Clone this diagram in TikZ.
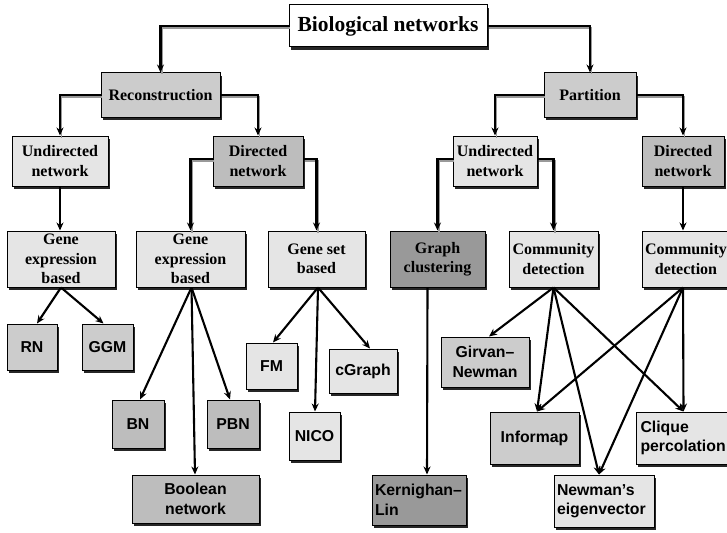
\documentclass[tikz,border=0pt]{standalone}
\usepackage{fontspec}
\setmainfont{Liberation Serif}
\setsansfont{Liberation Sans}
\usetikzlibrary{arrows.meta,shadows}
\tikzset{
  bx/.style={draw=black, line width=1pt, inner sep=2pt, align=center,
    drop shadow={shadow xshift=1.6pt, shadow yshift=-3.4pt, fill=black, opacity=0.85}},
  rmf/.style={font=\bfseries\fontsize{16}{19.5}\selectfont},
  sff/.style={font=\sffamily\bfseries\fontsize{15.8}{19.5}\selectfont},
  cwhite/.style={fill=white},
  clight/.style={fill=black!10},
  cmid/.style={fill=black!20},
  cdark/.style={fill=black!26},
  cdarker/.style={fill=black!40},
  el/.style={line width=2.4pt, -{Stealth[length=8pt,width=7pt]}},
  elsh/.style={line width=1.6pt, draw=black!40},
  dg/.style={line width=2.1pt, -{Stealth[length=8pt,width=7pt]}},
}
\newcommand\elbow[2]{%
  \draw[elsh, transform canvas={xshift=1.6pt,yshift=-2pt}] #1 -| #2;
  \draw[el] #1 -| #2;}
\begin{document}
\begin{tikzpicture}[x=1pt,y=-1pt]
\useasboundingbox (0,0) rectangle (727,532);
% level 0
\node[bx,cwhite,font=\bfseries\fontsize{21.5}{25}\selectfont,minimum width=198,minimum height=42] (bio) at (388,26) {Biological networks};
% level 1
\node[bx,cmid,rmf,minimum width=119,minimum height=44] (rec) at (160.5,95) {Reconstruction};
\node[bx,cmid,rmf,minimum width=92,minimum height=44] (par) at (590,95) {Partition};
% level 2
\node[bx,clight,rmf,minimum width=96,minimum height=50] (undL) at (60,161) {Undirected\\network};
\node[bx,cdark,rmf,minimum width=90,minimum height=50] (dirL) at (258,161) {Directed\\network};
\node[bx,clight,rmf,minimum width=84,minimum height=50] (undR) at (495,161) {Undirected\\network};
\node[bx,cdark,rmf,minimum width=82,minimum height=50] (dirR) at (683,161) {Directed\\network};
% level 3
\node[bx,clight,rmf,minimum width=108,minimum height=56] (geL) at (61,259) {Gene\\expression\\based};
\node[bx,clight,rmf,minimum width=109,minimum height=56] (geM) at (190.5,259) {Gene\\expression\\based};
\node[bx,clight,rmf,minimum width=97,minimum height=56] (gs) at (316.5,259) {Gene set\\based};
\node[bx,cdarker,rmf,minimum width=95,minimum height=56] (gc) at (437.5,259) {Graph\\clustering};
\node[bx,clight,rmf,minimum width=89,minimum height=56] (cdM) at (553.5,259) {Community\\detection};
\node[bx,clight,rmf,minimum width=88,minimum height=56] (cdR) at (686,259) {Community\\detection};
% leaves
\node[bx,cmid,sff,minimum width=50,minimum height=46] (rn) at (32,347) {RN};
\node[bx,cmid,sff,minimum width=51,minimum height=46] (ggm) at (107.5,347) {GGM};
\node[bx,clight,sff,minimum width=51,minimum height=46] (fm) at (271.5,366) {FM};
\node[bx,clight,sff,minimum width=68,minimum height=44] (cg) at (363,371) {cGraph};
\node[bx,clight,sff,minimum width=51,minimum height=48] (nico) at (314.5,436) {NICO};
\node[bx,cdark,sff,minimum width=52,minimum height=48] (bn) at (138,424) {BN};
\node[bx,cdark,sff,minimum width=52,minimum height=48] (pbn) at (233,424) {PBN};
\node[bx,cdark,sff,minimum width=127,minimum height=48] (bool) at (195.5,499) {Boolean\\network};
\node[bx,cmid,sff,minimum width=88,minimum height=50] (gn) at (485,362) {Girvan–\\Newman};
\node[bx,cmid,sff,minimum width=89,minimum height=52] (inf) at (534.5,438) {Informap};
\node[bx,clight,sff,minimum width=95,minimum height=52,text width=86,align=left] (cl) at (683.5,438) {Clique\\percolation};
\node[bx,cdarker,sff,minimum width=94,minimum height=50,text width=88,align=left] (kl) at (419,500) {Kernighan–\\Lin};
\node[bx,clight,sff,minimum width=100,minimum height=52,text width=94,align=left] (ne) at (604,501) {Newman’s\\eigenvector};
% elbow connectors
\elbow{(bio.west)}{(rec.north)}
\elbow{(bio.east)}{(par.north)}
\elbow{(rec.west)}{(undL.north)}
\elbow{(rec.east)}{(dirL.north)}
\elbow{(par.west)}{(undR.north)}
\elbow{(par.east)}{(dirR.north)}
\elbow{([yshift=2pt]dirL.west)}{(geM.north)}
\elbow{([yshift=2pt]dirL.east)}{(gs.north)}
\elbow{([yshift=2pt]undR.west)}{(gc.north)}
\elbow{([yshift=2pt]undR.east)}{(cdM.north)}
\draw[el] (undL.south) -- (undL.south |- geL.north);
\draw[el] (dirR.south) -- (dirR.south |- cdR.north);
% diagonal connectors
\draw[dg] (geL.south) -- ([xshift=5pt]rn.north);
\draw[dg] (geL.south) -- ([xshift=-4pt]ggm.north);
\draw[dg] ([xshift=1pt]geM.south) -- ([xshift=2pt]bn.north);
\draw[dg] ([xshift=1pt]geM.south) -- ([xshift=-3pt]pbn.north);
\draw[dg] ([xshift=1pt]geM.south) -- ([xshift=-0.5pt]bool.north);
\draw[dg] ([xshift=1.5pt]gs.south) -- ([xshift=1.5pt]fm.north);
\draw[dg] ([xshift=1.5pt]gs.south) -- ([xshift=0.5pt]nico.north);
\draw[dg] ([xshift=1.5pt]gs.south) -- ([xshift=7pt]cg.north);
\draw[dg] ([xshift=-10pt]gc.south) -- ([xshift=8pt]kl.north);
\draw[dg] (cdM.south) -- ([xshift=4pt]gn.north);
\draw[dg] (cdM.south) -- ([xshift=2.5pt]inf.north);
\draw[dg] (cdM.south) -- ([xshift=-5pt]ne.north);
\draw[dg] (cdM.south) -- (cl.north);
\draw[dg] ([xshift=-3pt]cdR.south) -- ([xshift=2.5pt]inf.north);
\draw[dg] ([xshift=-3pt]cdR.south) -- ([xshift=-5pt]ne.north);
\draw[dg] ([xshift=-3pt]cdR.south) -- (cl.north);
\end{tikzpicture}
\end{document}
